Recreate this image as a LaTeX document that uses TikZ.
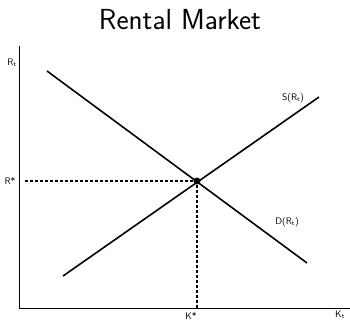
\documentclass[tikz,border=0pt]{standalone}
\usepackage{tikz}
\usetikzlibrary{positioning}

\begin{document}
\begin{tikzpicture}[
    x=1pt, y=-1pt,
    font=\sffamily,
    axis/.style={line width=1.4pt},
    curve/.style={line width=1.6pt},
    guide/.style={line width=1.6pt, dash pattern=on 3pt off 2pt},
    lbl/.style={font=\sffamily\fontsize{9.5}{11}\selectfont, inner sep=0pt},
    eqdot/.style={circle, fill, inner sep=0pt, minimum size=7pt}
]
\useasboundingbox (0,0) rectangle (350,322);

\node[anchor=base, inner sep=0pt] (title) at (180,29) {\fontsize{29}{34}\selectfont Rental Market};

% axes
\coordinate (origin) at (19.5,308.5);
\coordinate (ytop) at (19.5,46);
\coordinate (xend) at (350,308.5);
\draw[axis] (ytop) -- (origin) -- (xend);

% demand and supply
\coordinate (d1) at (47,71);
\coordinate (d2) at (307,263);
\coordinate (s1) at (63,276);
\coordinate (s2) at (319,97);
\draw[curve] (d1) -- (d2);
\draw[curve] (s1) -- (s2);

\node[eqdot] (eq) at (197,181) {};
\coordinate (rstar) at (25,181);
\coordinate (kstar) at (197,308);
\draw[guide] (rstar) -- (eq);
\draw[guide] (eq) -- (kstar);

% labels
\node[lbl] (rt) at (12,63) {R\textsubscript{t}};
\node[lbl] (rs) at (10,181) {R*};
\node[lbl] (ks) at (191,316) {K*};
\node[lbl] (kt) at (340,315) {K\textsubscript{t}};
\node[lbl] (slab) at (293,98) {S(R\textsubscript{t})};
\node[lbl] (dlab) at (287,222) {D(R\textsubscript{t})};

\end{tikzpicture}
\end{document}
